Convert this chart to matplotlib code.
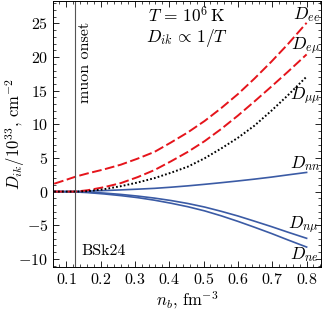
import matplotlib
matplotlib.use("Agg")
import matplotlib.pyplot as plt
from matplotlib.ticker import MultipleLocator

plt.rcParams.update({
    "font.family": "serif",
    "font.serif": ["cmr10", "DejaVu Serif"],
    "mathtext.fontset": "cm",
    "axes.formatter.use_mathtext": True,
    "font.size": 11.5,
})

# baryon density grid, fm^-3
n_b = [0.065, 0.1, 0.128, 0.162, 0.21, 0.259, 0.308, 0.357, 0.405, 0.454,
       0.503, 0.551, 0.6, 0.648, 0.697, 0.745, 0.8]

# D_ik / 1e33 cm^-2
D_ee = [1.17, 1.75, 2.23, 2.7, 3.3, 4.0, 4.9, 5.9, 7.3, 8.8,
        10.5, 12.4, 14.5, 16.8, 19.3, 21.9, 25.1]
D_emu = [0.0, 0.0, 0.0, 0.2, 0.65, 1.26, 2.15, 3.2, 4.5, 5.9,
         7.5, 9.3, 11.3, 13.4, 15.6, 17.8, 20.4]
D_mumu = [0.0, 0.0, 0.0, 0.05, 0.35, 0.8, 1.35, 2.0, 2.8, 3.7,
          4.95, 6.4, 8.0, 9.8, 12.0, 14.3, 17.1]
D_nn = [0.0, 0.0, 0.02, 0.06, 0.15, 0.25, 0.36, 0.48, 0.65, 0.85,
        1.08, 1.32, 1.58, 1.85, 2.15, 2.48, 2.85]
D_nmu = [0.0, 0.0, 0.0, -0.08, -0.22, -0.42, -0.67, -0.97, -1.33, -1.77,
         -2.3, -2.93, -3.63, -4.4, -5.2, -6.03, -6.95]
D_ne = [0.0, -0.02, -0.06, -0.15, -0.35, -0.6, -0.9, -1.28, -1.73, -2.25,
        -2.87, -3.6, -4.43, -5.3, -6.22, -7.18, -8.25]

n_onset = 0.127
red = "#e5141b"
blue = "#3b5ba5"

fig = plt.figure(figsize=(3.22, 3.20), dpi=100)
ax = fig.add_axes([0.165, 0.166, 0.832, 0.832])

ax.plot(n_b, D_nn, color=blue, lw=1.2)
ax.plot(n_b, D_nmu, color=blue, lw=1.2)
ax.plot(n_b, D_ne, color=blue, lw=1.2)
ax.plot(n_b, D_ee, color=red, lw=1.4, ls=(0, (5.0, 1.8)))
ax.plot(n_b, D_emu, color=red, lw=1.4, ls=(0, (5.0, 1.8)))
ax.plot(n_b, D_mumu, color="black", lw=1.4, ls=(0, (0.9, 1.1)))

ax.axvline(n_onset, color="#555555", lw=0.8)

ax.set_xlim(0.062, 0.842)
ax.set_ylim(-11.2, 28.4)
ax.xaxis.set_major_locator(MultipleLocator(0.1))
ax.xaxis.set_minor_locator(MultipleLocator(0.02))
ax.yaxis.set_major_locator(MultipleLocator(5))
ax.yaxis.set_minor_locator(MultipleLocator(1))
ax.tick_params(which="both", direction="in", top=True, right=True, labelsize=11.5)
ax.tick_params(which="major", length=4, width=0.6, pad=3.5)
ax.tick_params(which="minor", length=2, width=0.5)
for s in ax.spines.values():
    s.set_linewidth(0.7)

ax.set_xlabel(r"$n_b$, fm$^{-3}$", fontsize=12, labelpad=2)
ax.set_ylabel(r"$D_{ik}/10^{33}$, cm$^{-2}$", fontsize=12)
ax.yaxis.set_label_coords(-0.097, 0.5)

ax.text(0.154, 25.2, "muon onset", rotation=90, ha="center", va="top", fontsize=11.5)
ax.text(0.145, -8.9, "BSk24", ha="left", va="center", fontsize=11.5)
ax.text(0.451, 26.2, r"$T\,=\,10^6\,\mathrm{K}$", ha="center", va="center", fontsize=12.5)
ax.text(0.451, 22.9, r"$D_{ik}\,\propto\,1/T$", ha="center", va="center", fontsize=12.5)

ax.text(0.84, 26.3, r"$D_{ee}$", ha="right", va="center", fontsize=12.5)
ax.text(0.84, 21.6, r"$D_{e\mu}$", ha="right", va="center", fontsize=12.5)
ax.text(0.84, 14.3, r"$D_{\mu\mu}$", ha="right", va="center", fontsize=12.5)
ax.text(0.84, 4.1, r"$D_{nn}$", ha="right", va="center", fontsize=12.5)
ax.text(0.835, -4.9, r"$D_{n\mu}$", ha="right", va="center", fontsize=12.5)
ax.text(0.835, -9.3, r"$D_{ne}$", ha="right", va="center", fontsize=12.5)

fig.savefig("out.png", dpi=100)
